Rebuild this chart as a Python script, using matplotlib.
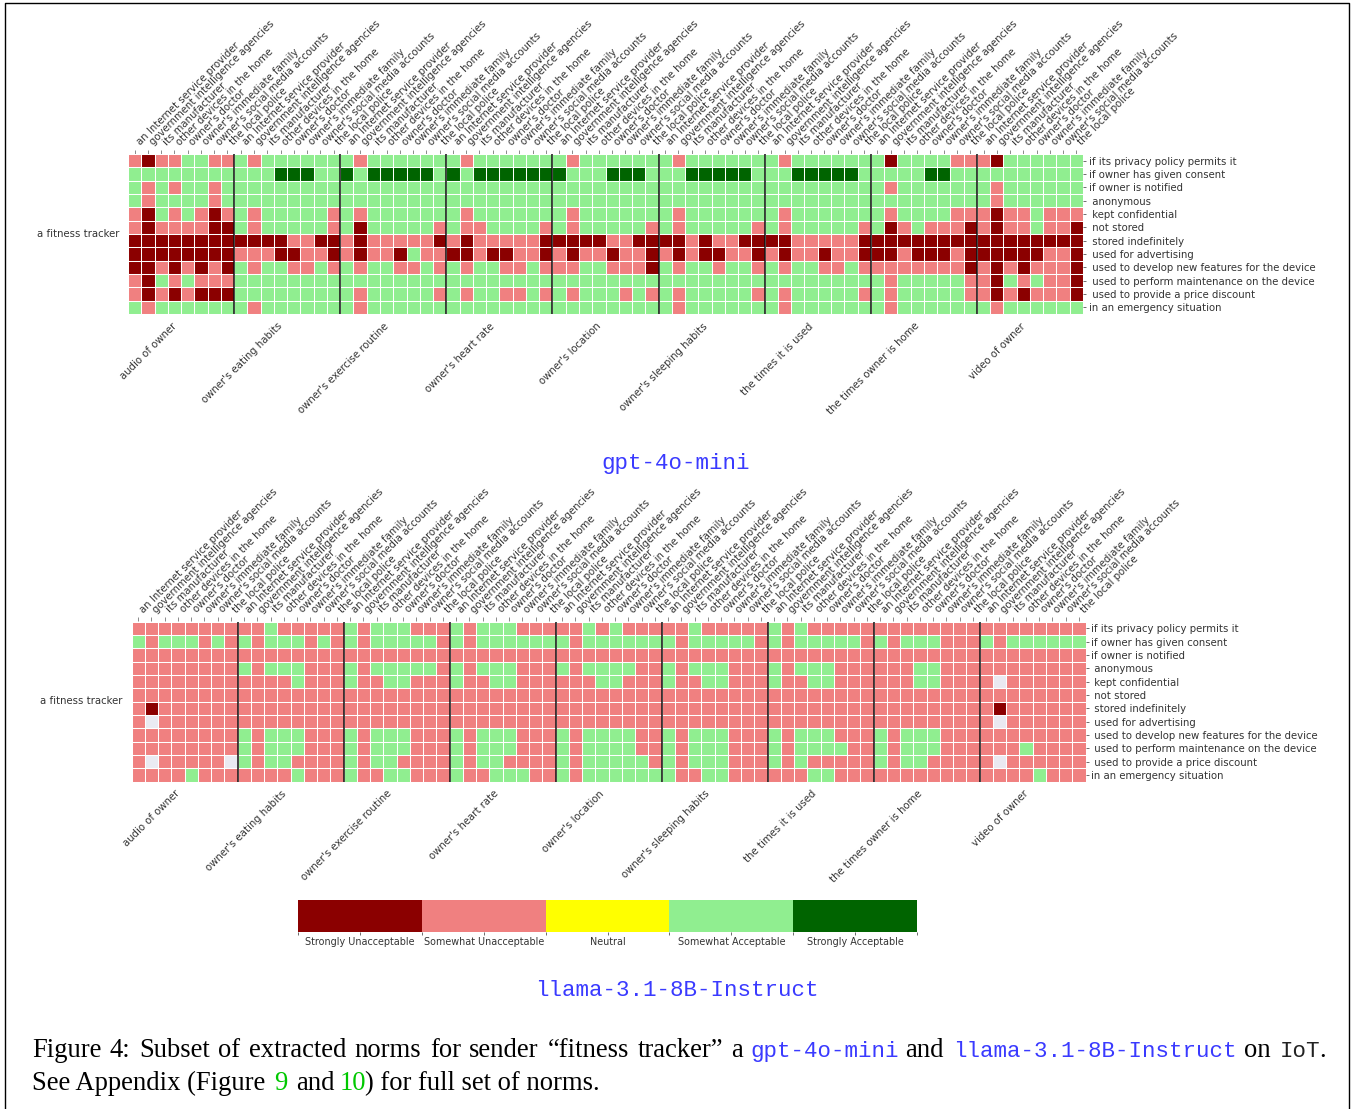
import numpy as np
import matplotlib
matplotlib.use("Agg")
import matplotlib.pyplot as plt
from matplotlib.colors import ListedColormap, BoundaryNorm
from matplotlib.lines import Line2D
from matplotlib.transforms import ScaledTranslation

W, H = 1351, 1109
DPI = 100

recipients = ["an Internet service provider", "government intelligence agencies", "its manufacturer",
              "other devices in the home", "owner's doctor", "owner's immediate family",
              "owner's social media accounts", "the local police"]
information = ["audio of owner", "owner's eating habits", "owner's exercise routine", "owner's heart rate",
               "owner's location", "owner's sleeping habits", "the times it is used",
               "the times owner is home", "video of owner"]
conditions = ["if its privacy policy permits it", "if owner has given consent", "if owner is notified",
              " anonymous", " kept confidential", " not stored", " stored indefinitely",
              " used for advertising", " used to develop new features for the device",
              " used to perform maintenance on the device", " used to provide a price discount",
              "in an emergency situation"]
scale_labels = ["Strongly Unacceptable", "Somewhat Unacceptable", "Neutral", "Somewhat Acceptable", "Strongly Acceptable"]
scale_colors = ["#8b0000", "#f08080", "#ffff00", "#90ee90", "#006400"]
sender = ["a fitness tracker"]

# D strongly unacceptable, R somewhat unacceptable, G somewhat acceptable, K strongly acceptable, W no answer
gpt_rows = [
    "RDRRGGRR GRGGGGGG GRGGGGGG GRGGGGGG GRGGGGGG GRGGGGGG GRGGGGGG GDGGGGRR RDGGGGGG",
    "GGGGGGGG GGGKKKGG KGKKKKKG KGKKKKKK KGGGKKKG GGKKKKKG GGKKKKKG GGGGKKGG GGGGGGGG",
    "GRGRGGRG GGGGGGGG GGGGGGGG GGGGGGGG GGGGGGGG GGGGGGGG GGGGGGGG GRGGGGGG GRGGGGGG",
    "GRGGGGRG GGGGGGGG GGGGGGGG GGGGGGGG GGGGGGGG GGGGGGGG GGGGGGGG GGGGGGGG GRGGGGGG",
    "RDGRGRDR GRGGGGGR GRGGGGGG GRGGGGGG GRGGGGGG GRGGGGGG GRGGGGGG GRGGGGRR RDRRGRRR",
    "RDRRRRDD GRGGGGGR GDGGGGGR GRRGGGGR GRGGGGGR GRGGGGGR GRGGGGGR GDRGRRRD RDRRGRRD",
    "DDDDDDDD DDDDRRDD RDRRRRRD RDRRRRRD DDDDRRDD DDRDRRDD DDRRRRRD DDDDDDDD DDDDDDDD",
    "DDDDDDDD RRRDDRRD RDRRDGRR DDRDDRRD RDRRDRRD RDRDDRRD RDRRDRRD DDRDDDRD DDDDDRRD",
    "DDRDRDRD GRGGRRGR GRGGRRGR GRGGRRGR RRGGRRRD GRGGRGGR GRGGRRGR RRRRRRRD RDRDRRRD",
    "RDGRGRRR GGGGGGGG GGGGGGGG GGGGGGGG GGGGGGGG GGGGGGGG GGGGGGGG GRGGGGGR RDGRGRRD",
    "RDRDRDDD GGGGGGGG GRGGGGGR GRGGRRGR GRGGGRGR GRGGGGGR GRGGGGGR GRGGGGGR RDRDRRRD",
    "GRGGGGGG GRGGGGGG GRGGGGGG GGGGGGGG GGGGGGGG GRGGGGGG GRGGGGGG GRGGGGGG GRGGGGGG",
]
llama_rows = [
    "RRRRRRRR RRGRRRRR GRGGGRRR GRGGGRRR RRGRGRRR RRGRRRRR GRGRRRRR RRRRRRRR RRRRRRRR",
    "GRGGGRGR GRGGGRGR GRGGGGGR GRGGGGGG GRGGGGGG GRGGGGGR GRGGGGGR GRGGGRRR GRGGGGGG",
    "RRRRRRRR RRRRRRRR RRRRRRRR RRRRRRRR RRRRRRRR RRRRRRRR RRRRRRRR RRRRRRRR RRRRRRRR",
    "RRRRRRRR GRGGGRRR GRGGGGGR GRGGGRRR GRGGGGRR GRGGGRRR GRGGGRRR RRRGGRRR RRRRRRRR",
    "RRRRRRRR RRRRGRRR GRRGGRRR GRRGGRRR RRRGGRRR GRRGGRRR GRRGGRRR RRRGGRRR RWRRRRRR",
    "RRRRRRRR RRRRRRRR RRRRRRRR RRRRRRRR RRRRRRRR RRRRRRRR RRRRRRRR RRRRRRRR RRRRRRRR",
    "RDRRRRRR RRRRRRRR RRRRRRRR RRRRRRRR RRRRRRRR RRRRRRRR RRRRRRRR RRRRRRRR RDRRRRRR",
    "RWRRRRRR RRRRRRRR RRRRRRRR RRRRRRRR RRRRRRRR RRRRRRRR RRRRRRRR RRRRRRRR RWRRRRRR",
    "RRRRRRRR GRGGGRRR GRGGGRRR GRGGGRRR GRGGGGRR GRGGGRRR GRGGGRRR GRGGGRRR RRRRRRRR",
    "RRRRRRRR GRGGGRRR GRGGGRRR GRGGGRRR GRGGGGRR GRGGGRRR GRGGGGRR GRGGGRRR RRRGRRRR",
    "RWRRRRRW GRGGRRRR GRGGRRRR GRGGRRRR GRGGGGGR GRGGGRRR GRGRRRRR GRGGRRRR RWRRRRRR",
    "RRRRGRRR RRRRGRRR GRRGGRRR GRRGGGRR GRGGGGGG GRRGGRRR RRRGGRRR RRRRRRRR RRRRGRRR",
]
letter_value = {"D": 0, "R": 1, "N": 2, "G": 3, "K": 4, "W": np.nan}

BLUE = "#3a3aff"
GREEN = "#00c800"
TXT = "#333333"
TICK_FS = 7.33
SERIF = "Liberation Serif"
MONO = "Liberation Mono"
SERIF_FS = 19.2
MONO_FS = 16.2

cmap = ListedColormap(scale_colors)
norm = BoundaryNorm(np.arange(-0.5, 5.5), cmap.N)

fig = plt.figure(figsize=(W / DPI, H / DPI), dpi=DPI, facecolor="white")


def rect_axes(x0, y0, x1, y1):
    return fig.add_axes([x0 / W, 1 - y1 / H, (x1 - x0) / W, (y1 - y0) / H])


def fx(x):
    return x / W


def fy(y):
    return 1 - y / H


def heatmap(rows, box):
    ax = rect_axes(*box)
    values = np.array([[letter_value[c] for c in r.replace(" ", "")] for r in rows], dtype=float)
    nrow, ncol = values.shape
    ax.set_facecolor("#eaeaf2")
    ax.pcolormesh(np.arange(ncol + 1), np.arange(nrow + 1), np.ma.masked_invalid(values),
                  cmap=cmap, norm=norm, edgecolors="none")
    ax.set_xlim(0, ncol)
    ax.set_ylim(nrow, 0)
    for s in ax.spines.values():
        s.set_visible(False)
    ax.xaxis.remove_overlapping_locs = False
    ax.yaxis.remove_overlapping_locs = False
    ax.set_xticks(np.arange(ncol + 1), minor=True)
    ax.set_yticks(np.arange(nrow + 1), minor=True)
    ax.grid(which="minor", color="white", linewidth=0.75)
    ax.set_axisbelow(False)
    ax.tick_params(which="minor", length=0)

    n_group = len(information)
    group_w = ncol // n_group
    for k in range(1, n_group):
        ax.axvline(k * group_w, color="#111111", linewidth=1.1, zorder=5)

    # bottom axis: information types
    ax.set_xticks((np.arange(n_group) + 0.5) * group_w)
    ax.set_xticklabels(information, rotation=45, ha="right", va="bottom", rotation_mode="anchor",
                       fontsize=TICK_FS, color=TXT)
    ax.tick_params(axis="x", which="major", length=0, pad=10.2)
    nudge = ScaledTranslation(-2.5 / DPI, 0, fig.dpi_scale_trans)
    for lab in ax.get_xticklabels():
        lab.set_transform(lab.get_transform() + nudge)
    # right axis: conditions
    ax.set_yticks([])
    ax_r = ax.secondary_yaxis("right")
    ax_r.set_yticks(np.arange(nrow) + 0.5)
    ax_r.set_yticklabels(conditions, fontsize=TICK_FS, color=TXT)
    ax_r.tick_params(length=2.2, width=0.6, pad=2, color="#555555")
    ax_r.spines["right"].set_visible(False)
    # left axis: sender
    ax_l = ax.secondary_yaxis("left")
    ax_l.set_yticks([nrow / 2 - 0.1])
    ax_l.set_yticklabels(sender, fontsize=TICK_FS, color=TXT)
    ax_l.tick_params(length=0, pad=6.5)
    ax_l.spines["left"].set_visible(False)
    # top axis: recipients
    ax_t = ax.secondary_xaxis("top")
    ax_t.set_xticks(np.arange(ncol) + 0.5)
    ax_t.set_xticklabels([recipients[i % len(recipients)] for i in range(ncol)], rotation=45,
                         ha="left", va="top", rotation_mode="anchor", fontsize=TICK_FS, color=TXT)
    ax_t.tick_params(length=3, width=0.6, pad=7, color="#777777")
    ax_t.spines["top"].set_visible(False)
    return ax


heatmap(gpt_rows, (128, 154, 1083, 314))
heatmap(llama_rows, (131.5, 621.5, 1085.5, 781.5))

# scale bar
cax = rect_axes(298, 900, 917, 932)
cax.pcolormesh(np.arange(len(scale_labels) + 1), [0, 1],
               np.arange(len(scale_labels), dtype=float)[None, :], cmap=cmap, norm=norm)
cax.set_xlim(0, len(scale_labels))
cax.set_ylim(0, 1)
cax.set_yticks([])
for s in cax.spines.values():
    s.set_visible(False)
cax.set_xticks(np.arange(len(scale_labels)) + 0.5)
cax.set_xticklabels(scale_labels, fontsize=6.9, color=TXT)
cax.set_xticks(np.arange(len(scale_labels) + 1), minor=True)
cax.tick_params(axis="x", which="both", length=2.5, width=0.6, color="#555555", pad=1.2)

# sub-captions
fig.text(fx(676), fy(463.5), "gpt-4o-mini", family=MONO, fontsize=MONO_FS, color=BLUE,
         ha="center", va="center")
fig.text(fx(676.5), fy(991), "llama-3.1-8B-Instruct", family=MONO, fontsize=MONO_FS, color=BLUE,
         ha="center", va="center")

# caption: (left pixel, text, family, colour)
caption_head = "Figure 4: Subset of extracted norms for sender “fitness tracker” a"
line1 = [
    (750, "gpt-4o-mini", MONO, BLUE),
    (905, "and", SERIF, "black"),
    (953, "llama-3.1-8B-Instruct", MONO, BLUE),
    (1244, "on", SERIF, "black"),
    (1280, "IoT", MONO, "#222222"),
    (1319, ".", SERIF, "black"),
]
line2 = [
    (32, "See Appendix (Figure", SERIF, "black"),
    (274, "9", SERIF, GREEN),
    (296, "and", SERIF, "black"),
    (340, "10", SERIF, GREEN),
    (365, ") for full set of norms.", SERIF, "black"),
]
BASE1, BASE2 = 1057, 1090


def put(x, base, s, fam, col):
    return fig.text(fx(x), fy(base), s, family=fam, fontsize=MONO_FS if fam == MONO else SERIF_FS,
                    color=col, ha="left", va="baseline")


# the first line is justified: share the free width out between the words of its head
renderer = fig.canvas.get_renderer()
words = caption_head.split(" ")
artists = [put(32, BASE1, w, SERIF, "black") for w in words]
widths = [a.get_window_extent(renderer).width for a in artists]
gap = (743 - 32 - sum(widths)) / (len(words) - 1)
cursor = 32
for a, w in zip(artists, widths):
    a.set_x(fx(cursor))
    cursor += w + gap

for x, s, fam, col in line1:
    put(x, BASE1, s, fam, col)
for x, s, fam, col in line2:
    put(x, BASE2, s, fam, col)

# page frame: left, top and right rules
frame_x = [5.5, 5.5, 1348.5, 1348.5]
frame_y = [1109, 2.5, 2.5, 1109]
fig.add_artist(Line2D([fx(v) for v in frame_x], [fy(v) for v in frame_y], color="black",
                      linewidth=1.0, transform=fig.transFigure))

fig.savefig("out.png", dpi=DPI, facecolor="white")
